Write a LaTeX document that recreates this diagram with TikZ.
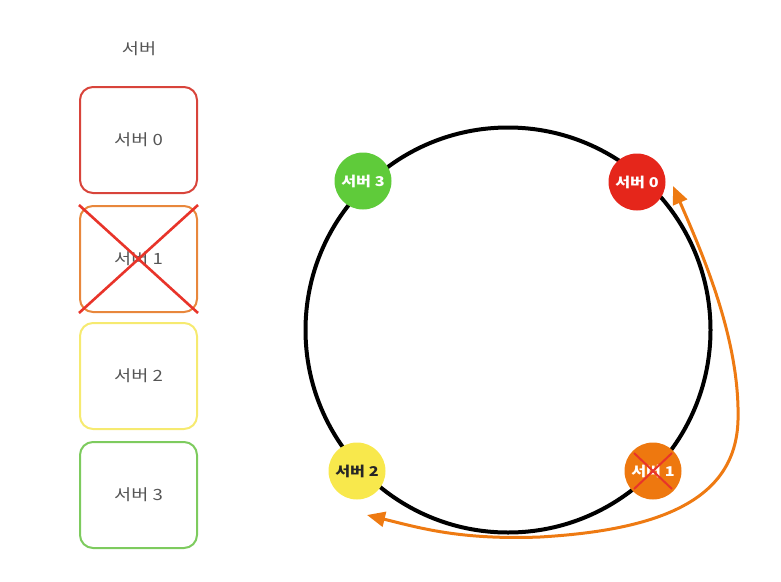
\documentclass[tikz,border=0pt]{standalone}
\usepackage{fontspec}
\setmainfont{Noto Sans CJK KR}[FakeStretch=1.2]
\usetikzlibrary{arrows.meta}
\definecolor{srvred}{HTML}{E5261B}
\definecolor{srvorange}{HTML}{EE780F}
\definecolor{srvyellow}{HTML}{F8E84C}
\definecolor{srvgreen}{HTML}{5FCB3A}
\definecolor{boxred}{HTML}{D8443B}
\definecolor{boxorange}{HTML}{E8873C}
\definecolor{boxyellow}{HTML}{F6EA70}
\definecolor{boxgreen}{HTML}{7DCB5E}
\definecolor{crossred}{HTML}{E8342A}
\definecolor{labelgray}{HTML}{555555}
\definecolor{moveorange}{HTML}{EE7A12}
\tikzset{
  srvbox/.style={draw, line width=2pt, rounded corners=13pt, minimum width=117pt,
    minimum height=106pt, text=labelgray, font=\fontsize{15.5}{18}\selectfont},
  srvdot/.style={circle, minimum size=57pt, inner sep=0pt,
    font=\fontsize{13.5}{15}\selectfont\bfseries, text=white},
  crossline/.style={crossred, line width=2.6pt},
  movearrow/.style={moveorange, line width=3pt,
    {Triangle[length=18pt,width=15pt]}-{Triangle[length=18pt,width=15pt]}}
}
\begin{document}
\begin{tikzpicture}[x=1pt,y=-1pt]
\useasboundingbox (0,0) rectangle (781,581);
% server list
\node[text=labelgray, font=\fontsize{15.5}{18}\selectfont] (title) at (139,49) {서버};
\node[srvbox, draw=boxred] (b0) at (138.5,140) {서버 0};
\node[srvbox, draw=boxorange] (b1) at (138.5,259) {서버 1};
\node[srvbox, draw=boxyellow] (b2) at (138.5,376) {서버 2};
\node[srvbox, draw=boxgreen] (b3) at (138.5,495) {서버 3};
\draw[crossline] (b1.north west) -- (b1.south east);
\draw[crossline] (b1.north east) -- (b1.south west);
% hash ring
\node[circle, draw, line width=4pt, minimum size=405pt, inner sep=0pt] (ring) at (508,330) {};
\node[srvdot, fill=srvgreen] (s3) at (363,181) {서버 3};
\node[srvdot, fill=srvred] (s0) at (637,182) {서버 0};
\node[srvdot, fill=srvyellow, text=black!85] (s2) at (357,471) {서버 2};
\node[srvdot, fill=srvorange] (s1) at (653,471) {서버 1};
\draw[crossline, line width=2pt] ([shift={(-19,-18)}]s1.center) -- ([shift={(19,18)}]s1.center);
\draw[crossline, line width=2pt] ([shift={(19,-18)}]s1.center) -- ([shift={(-19,18)}]s1.center);
% arrow tips just beside server 0 and server 2
\coordinate (s0tip) at ([shift={(36,4)}]s0.center);
\coordinate (s2tip) at ([shift={(10,44)}]s2.center);
% keys moving between servers
\draw[movearrow]
  (s0tip) .. controls (703,255) and (740,340) .. (738,420)
  .. controls (736,500) and (660,530) .. (540,537)
  .. controls (460,540) and (420,528) .. (s2tip);
\end{tikzpicture}
\end{document}
